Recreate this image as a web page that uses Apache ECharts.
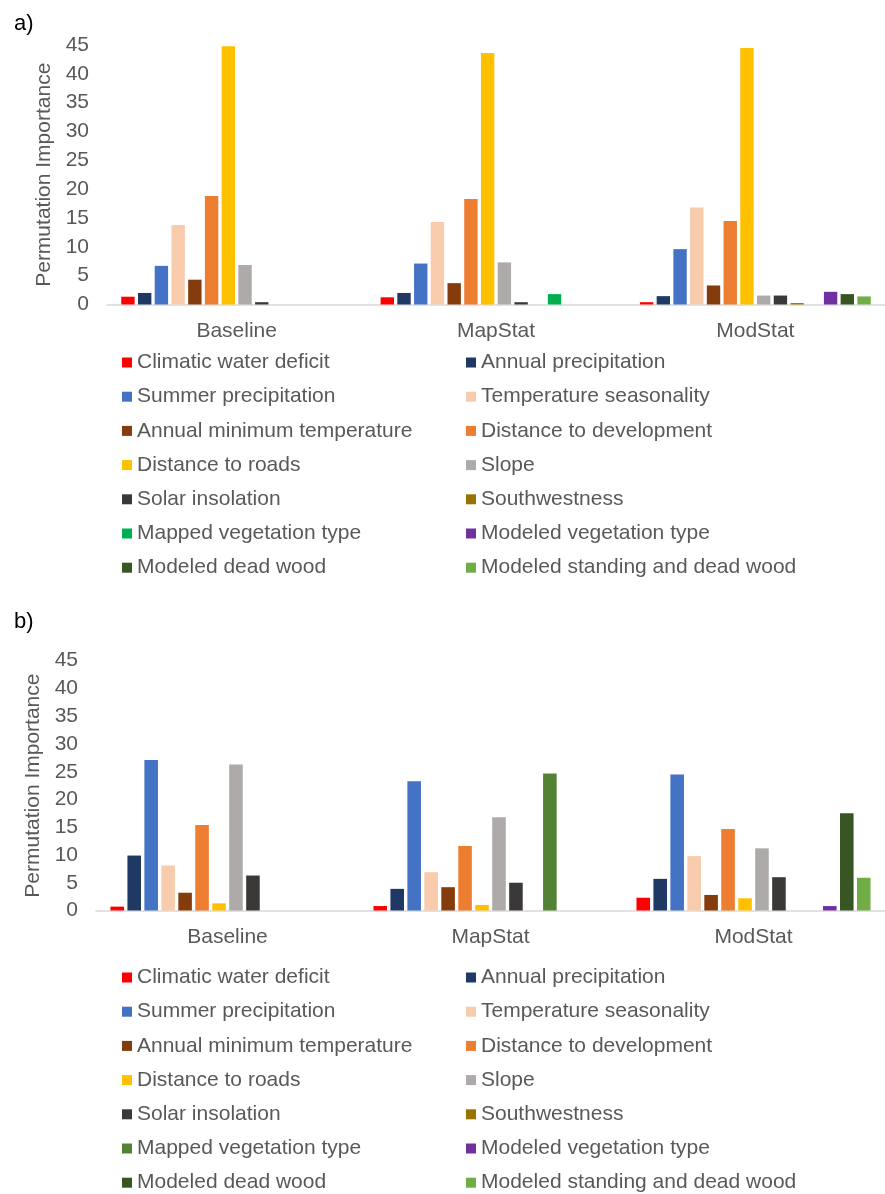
<!DOCTYPE html>
<html>
<head>
<meta charset="utf-8">
<script src="https://cdn.jsdelivr.net/npm/echarts@6/dist/echarts.min.js"></script>
<style>
html,body{margin:0;padding:0;background:#fff;}
#a{position:absolute;left:0;top:0;width:885px;height:600px;}
#b{position:absolute;left:0;top:600px;width:885px;height:594px;}
</style>
</head>
<body>
<div id="a"></div>
<div id="b"></div>
<script>
const categories = ['Baseline', 'MapStat', 'ModStat'];
const seriesNames = [
  'Climatic water deficit', 'Annual precipitation',
  'Summer precipitation', 'Temperature seasonality',
  'Annual minimum temperature', 'Distance to development',
  'Distance to roads', 'Slope',
  'Solar insolation', 'Southwestness',
  'Mapped vegetation type', 'Modeled vegetation type',
  'Modeled dead wood', 'Modeled standing and dead wood'
];
const yTicks = [0, 5, 10, 15, 20, 25, 30, 35, 40, 45];

// Panel a) values, one array per category, ordered as seriesNames
const aBaseline = [1.35, 2.0, 6.7, 13.8, 4.3, 18.8, 44.8, 6.85, 0.4, 0, 0, 0, 0, 0];
const aMapStat  = [1.25, 2.0, 7.1, 14.3, 3.7, 18.3, 43.6, 7.3, 0.4, 0, 1.8, 0, 0, 0];
const aModStat  = [0.4, 1.45, 9.6, 16.8, 3.3, 14.5, 44.5, 1.55, 1.55, 0.25, 0, 2.2, 1.8, 1.4];

// Panel b) values
const bBaseline = [0.7, 9.9, 27.1, 8.1, 3.2, 15.4, 1.3, 26.3, 6.3, 0, 0, 0, 0, 0];
const bMapStat  = [0.8, 3.9, 23.3, 6.9, 4.2, 11.6, 1.0, 16.8, 5.0, 0, 24.7, 0, 0, 0];
const bModStat  = [2.3, 5.7, 24.5, 9.8, 2.8, 14.7, 2.2, 11.2, 6.0, 0, 0, 0.8, 17.5, 5.9];

const colorsA = ['#FF0000', '#1F3864', '#4472C4', '#F8CBAD', '#843C0C', '#ED7D31', '#FFC000',
  '#AEAAAA', '#3B3838', '#997300', '#00B050', '#7030A0', '#375623', '#70AD47'];
const colorsB = ['#FF0000', '#1F3864', '#4472C4', '#F8CBAD', '#843C0C', '#ED7D31', '#FFC000',
  '#AEAAAA', '#3B3838', '#997300', '#548235', '#7030A0', '#375623', '#70AD47'];

const FONT = '"Liberation Sans", Arial, sans-serif';
const TXT = '#595959';

function build(el, label, rows, colors, L) {
  const chart = echarts.init(document.getElementById(el), null, {renderer: 'canvas'});
  const series = seriesNames.map((n, i) => ({
    name: n,
    type: 'bar',
    data: rows.map(r => r[i]),
    itemStyle: {color: colors[i]},
    barGap: '25%',
    barCategoryGap: '11%',
    animation: false
  }));
  const legendItem = idx => idx.map(i => ({name: seriesNames[i], itemStyle: {color: colors[i]}}));
  const legendBase = {
    orient: 'vertical',
    top: L.legendTop,
    height: 260,
    padding: 0,
    itemWidth: 10,
    itemHeight: 10,
    itemGap: 13.2,
    icon: 'rect',
    selectedMode: false,
    textStyle: {color: TXT, fontSize: 21, fontFamily: FONT}
  };
  chart.setOption({
    animation: false,
    title: {text: label, left: 9, top: L.labelTop,
      textStyle: {color: '#000', fontSize: 22, fontWeight: 'normal', fontFamily: FONT}},
    legend: [
      Object.assign({}, legendBase, {left: 122, data: legendItem([0, 2, 4, 6, 8, 10, 12])}),
      Object.assign({}, legendBase, {left: 466, data: legendItem([1, 3, 5, 7, 9, 11, 13])})
    ],
    grid: {left: L.left, width: L.width, top: L.top, height: L.height},
    xAxis: {
      type: 'category',
      data: categories,
      axisTick: {show: false},
      axisLine: {lineStyle: {color: '#D9D9D9', width: 1.5}},
      axisLabel: {color: TXT, fontSize: 21, fontFamily: FONT, margin: 16}
    },
    yAxis: {
      type: 'value',
      min: yTicks[0],
      max: yTicks[yTicks.length - 1],
      interval: yTicks[1] - yTicks[0],
      name: 'Permutation Importance',
      nameLocation: 'middle',
      nameGap: L.nameGap,
      nameTextStyle: {color: TXT, fontSize: 21, fontFamily: FONT},
      splitLine: {show: false},
      axisLine: {show: false},
      axisTick: {show: false},
      axisLabel: {color: TXT, fontSize: 21, fontFamily: FONT, margin: 18}
    },
    series: series
  });
}

build('a', 'a)', [aBaseline, aMapStat, aModStat], colorsA,
  {left: 107, width: 786, top: 45, height: 259.5, legendTop: 352, labelTop: 8, nameGap: 46});
build('b', 'b)', [bBaseline, bMapStat, bModStat], colorsB,
  {left: 96, width: 797, top: 60.7, height: 249.8, legendTop: 367, labelTop: 6, nameGap: 45});
</script>
</body>
</html>
